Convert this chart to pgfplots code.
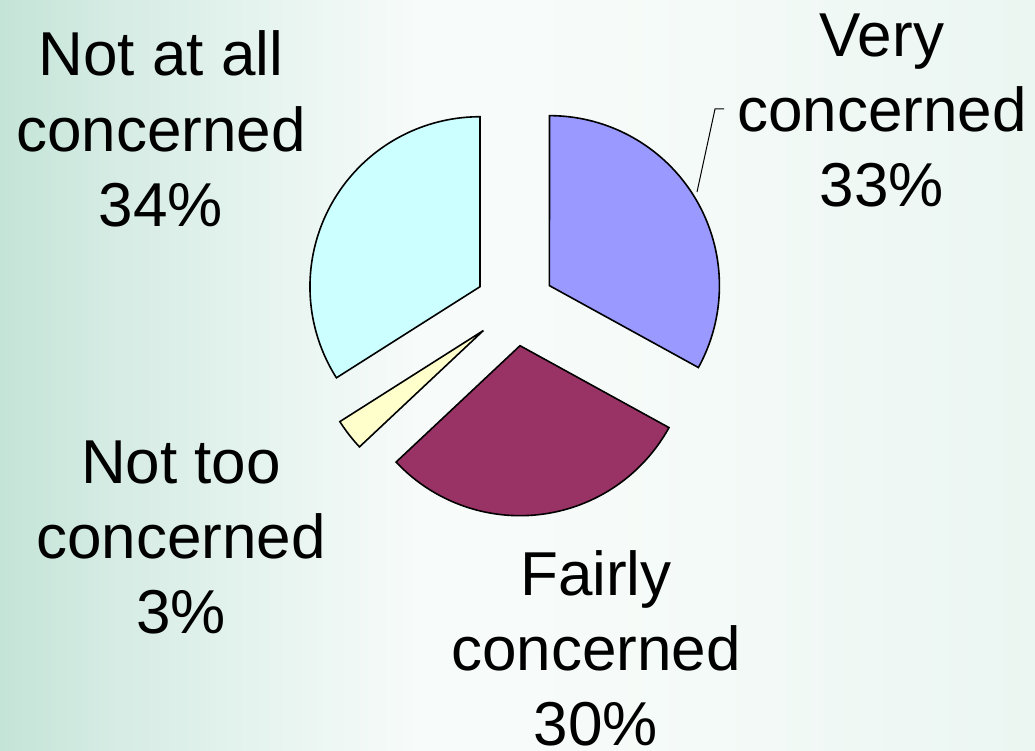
\documentclass[border=0pt]{standalone}
\usepackage{pgfplots}
\pgfplotsset{compat=1.18}
\usepackage{pgfplotstable}
\usepackage{fontspec}
\setmainfont{Liberation Sans}
\definecolor{vc}{HTML}{9999FF}
\definecolor{fc}{HTML}{993366}
\definecolor{nt}{HTML}{FFFFCC}
\definecolor{na}{HTML}{CCFFFF}
\pgfdeclarehorizontalshading{bgshade}{100bp}{
  rgb(0bp)=(0.77,0.895,0.845);
  rgb(25bp)=(0.77,0.895,0.845);
  rgb(30.8bp)=(0.84,0.925,0.895);
  rgb(37.6bp)=(0.90,0.955,0.935);
  rgb(45.3bp)=(0.97,0.985,0.98);
  rgb(55bp)=(0.965,0.985,0.975);
  rgb(75bp)=(0.92,0.962,0.945);
  rgb(100bp)=(0.92,0.962,0.945)}

\pgfplotstableread{
share color
33 vc
30 fc
3 nt
34 na
}\piedata

\newcommand\startang{90}

\begin{document}
\begin{tikzpicture}
\path[shading=bgshade, shading angle=0] (0,0) rectangle (1035pt,751pt);
\begin{axis}[
  at={(0,0)}, anchor=south west,
  hide axis, scale only axis,
  width=1035pt, height=751pt,
  xmin=0, xmax=1035, ymin=0, ymax=751,
  y dir=reverse, clip=false,
]
\pgfplotsforeachungrouped \i in {0,...,3}{%
  \pgfplotstablegetelem{\i}{share}\of\piedata \let\share\pgfplotsretval
  \pgfplotstablegetelem{\i}{color}\of\piedata \let\col\pgfplotsretval
  \pgfmathsetmacro\endang{\startang-3.6*\share}
  \pgfmathsetmacro\midang{(\startang+\endang)/2}
  \pgfmathsetmacro\cx{515+40*cos(\midang)}
  \pgfmathsetmacro\cy{306-40*sin(\midang)}
  \edef\doslice{\noexpand\addplot[draw=black, line width=1.6pt, fill=\col, domain=\endang:\startang, samples=90, variable=\noexpand\t]
    ({\cx+170*cos(\noexpand\t)},{\cy-170*sin(\noexpand\t)}) -- (axis cs:\cx,\cy) -- cycle;}%
  \doslice
  \let\startang\endang
}
\draw[black, line width=1pt] (axis cs:724,109) -- (axis cs:715,109) -- (axis cs:697,192);
\tikzset{lab/.style={anchor=base, inner sep=0pt, font=\fontsize{62}{75}\selectfont}}
\node[lab] at (axis cs:161,76) {Not at all};
\node[lab] at (axis cs:161,152) {concerned};
\node[lab] at (axis cs:161,227) {34\%};
\node[lab] at (axis cs:882,57) {Very};
\node[lab] at (axis cs:882,132) {concerned};
\node[lab] at (axis cs:882,207) {33\%};
\node[lab] at (axis cs:181,483) {Not too};
\node[lab] at (axis cs:181,558) {concerned};
\node[lab] at (axis cs:181,633) {3\%};
\node[lab] at (axis cs:596,595) {Fairly};
\node[lab] at (axis cs:596,670) {concerned};
\node[lab] at (axis cs:596,745) {30\%};
\end{axis}
\pgfresetboundingbox
\path[use as bounding box] (0,0) rectangle (1035pt,751pt);
\end{tikzpicture}
\end{document}
